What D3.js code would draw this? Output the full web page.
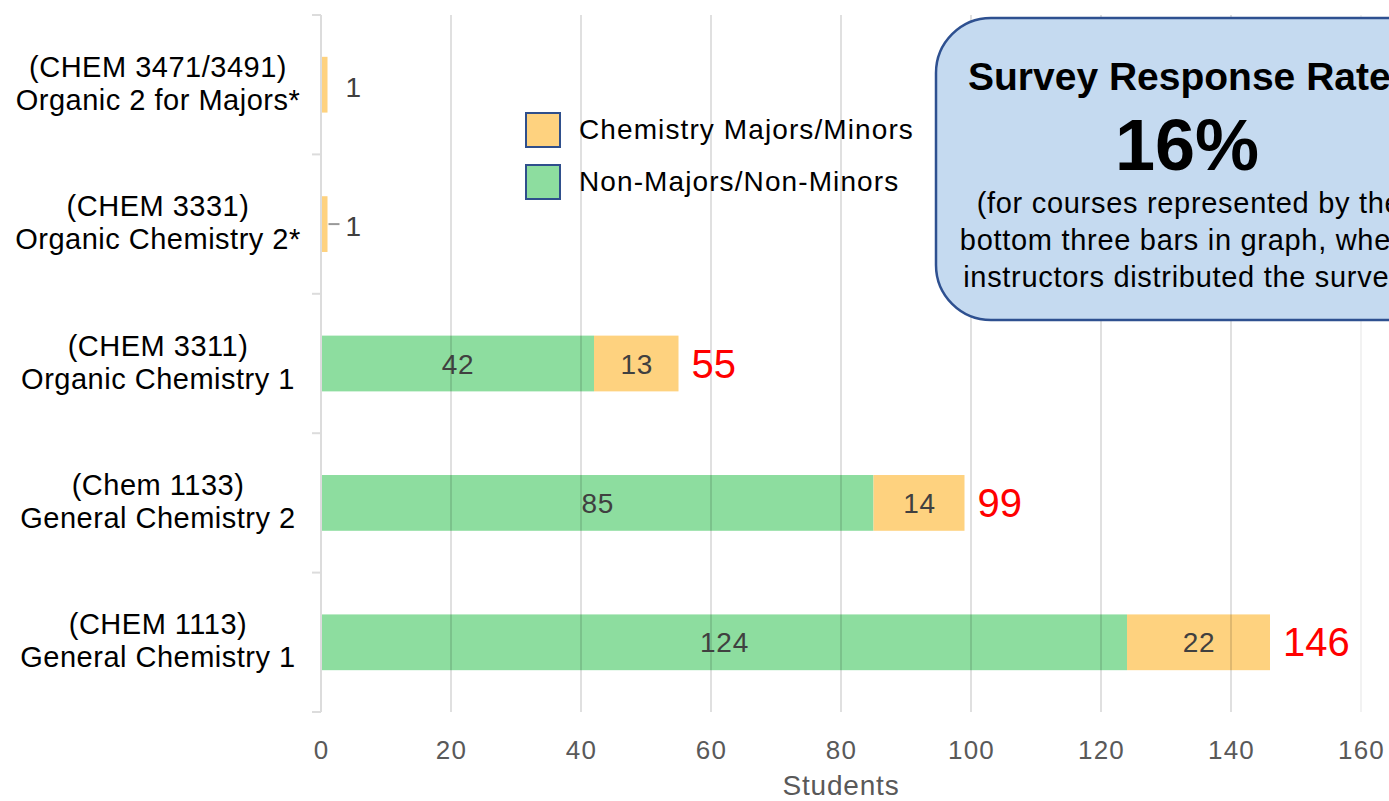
<!DOCTYPE html>
<html>
<head>
<meta charset="utf-8">
<script src="https://cdn.jsdelivr.net/npm/d3@7"></script>
<style>
  html, body { margin: 0; padding: 0; background: #fff; }
  svg { display: block; font-family: "Liberation Sans", Arial, Helvetica, sans-serif; }
</style>
</head>
<body>
<div id="chart"></div>
<script>
// ---- data ----
const courseCodes = ['(CHEM 3471/3491)', '(CHEM 3331)', '(CHEM 3311)', '(Chem 1133)', '(CHEM 1113)'];
const courseNames = ['Organic 2 for Majors*', 'Organic Chemistry 2*', 'Organic Chemistry 1', 'General Chemistry 2', 'General Chemistry 1'];
const nonMajors = [0, 0, 42, 85, 124];
const majors = [1, 1, 13, 14, 22];
const totalLabels = [null, null, 55, 99, 146];
const xTicks = [0, 20, 40, 60, 80, 100, 120, 140, 160];
const seriesNames = ['Chemistry Majors/Minors', 'Non-Majors/Non-Minors'];
const boxTitle = 'Survey Response Rate';
const boxValue = '16%';
const boxNote = ['(for courses represented by the', 'bottom three bars in graph, where', 'instructors distributed the survey)'];

const W = 1389, H = 801;
const margin = { top: 15, right: 28, bottom: 89, left: 321 };
const colors = { nonMajor: '#8ddd9f', major: '#fed27f', grid: '#000', tick: '#595959', inner: '#404040' };

const svg = d3.select('#chart').append('svg')
    .attr('width', W)
    .attr('height', H);

const x = d3.scaleLinear().domain([0, 160]).range([margin.left, W - margin.right]);
const y = d3.scaleBand().domain(d3.range(courseCodes.length))
    .range([margin.top, H - margin.bottom])
    .paddingInner(0.6).paddingOuter(0.3);

const bandStep = y.step();
const rows = courseCodes.map((c, i) => ({ i, code: c, name: courseNames[i], non: nonMajors[i], maj: majors[i], total: totalLabels[i] }));
const cy = d => y(d.i) + y.bandwidth() / 2;

// bars
const barG = svg.append('g');
barG.selectAll('rect.non').data(rows.filter(d => d.non > 0)).join('rect')
    .attr('x', x(0))
    .attr('y', d => y(d.i))
    .attr('width', d => x(d.non) - x(0))
    .attr('height', y.bandwidth())
    .attr('fill', colors.nonMajor);

barG.selectAll('rect.maj').data(rows).join('rect')
    .attr('x', d => x(d.non))
    .attr('y', d => y(d.i))
    .attr('width', d => x(d.non + d.maj) - x(d.non))
    .attr('height', y.bandwidth())
    .attr('fill', colors.major);

// gridlines (drawn over bars, faint)
svg.append('g').selectAll('line').data(xTicks.slice(1)).join('line')
    .attr('x1', d => x(d)).attr('x2', d => x(d))
    .attr('y1', margin.top).attr('y2', H - margin.bottom)
    .attr('stroke', colors.grid)
    .attr('stroke-opacity', d => d === 160 ? 0.05 : 0.12)
    .attr('stroke-width', 2);

// left axis line with band ticks
const axG = svg.append('g').attr('stroke', '#dcdcdc').attr('stroke-width', 2);
axG.append('line')
    .attr('x1', x(0)).attr('x2', x(0))
    .attr('y1', margin.top).attr('y2', H - margin.bottom);
axG.selectAll('line.tk').data(d3.range(courseCodes.length + 1)).join('line')
    .attr('x1', x(0) - 9).attr('x2', x(0))
    .attr('y1', i => margin.top + i * bandStep)
    .attr('y2', i => margin.top + i * bandStep);

// x tick labels
svg.append('g').selectAll('text').data(xTicks).join('text')
    .attr('x', d => x(d) + 0.5)
    .attr('y', 759)
    .attr('text-anchor', 'middle')
    .attr('font-size', 26)
    .attr('letter-spacing', 1.2)
    .attr('fill', colors.tick)
    .text(d => d);

svg.append('text')
    .attr('x', (x(0) + x(160)) / 2)
    .attr('y', 795)
    .attr('text-anchor', 'middle')
    .attr('font-size', 28)
    .attr('letter-spacing', 0.8)
    .attr('fill', colors.tick)
    .text('Students');

// category labels
const catG = svg.append('g').selectAll('text').data(rows).join('text')
    .attr('text-anchor', 'middle')
    .attr('font-size', 29)
    .attr('letter-spacing', 0.5)
    .attr('fill', '#000');
catG.append('tspan')
    .attr('x', 158)
    .attr('y', d => cy(d) - 8)
    .text(d => d.code);
catG.append('tspan')
    .attr('x', 158)
    .attr('y', d => cy(d) + 25)
    .text(d => d.name);

// segment labels
const stacked = rows.filter(d => d.non > 0);
svg.append('g').selectAll('text').data(stacked).join('text')
    .attr('x', d => x(d.non / 2) + 0.5)
    .attr('y', d => cy(d) + 10)
    .attr('text-anchor', 'middle')
    .attr('font-size', 28)
    .attr('letter-spacing', 0.8)
    .attr('fill', colors.inner)
    .text(d => d.non);

svg.append('g').selectAll('text').data(stacked).join('text')
    .attr('x', d => x(d.non + d.maj / 2) + 0.5)
    .attr('y', d => cy(d) + 10)
    .attr('text-anchor', 'middle')
    .attr('font-size', 28)
    .attr('letter-spacing', 0.8)
    .attr('fill', colors.inner)
    .text(d => d.maj);

// small bars: label outside, second with leader line
const small = rows.filter(d => d.non === 0);
svg.append('g').selectAll('text').data(small).join('text')
    .attr('x', d => x(d.maj) + 18)
    .attr('y', d => cy(d) + 12)
    .attr('font-size', 28)
    .attr('fill', colors.inner)
    .text(d => d.maj);
svg.append('line')
    .attr('x1', x(small[1].maj) + 1).attr('x2', x(small[1].maj) + 12)
    .attr('y1', cy(small[1]))
    .attr('y2', cy(small[1]))
    .attr('stroke', '#999').attr('stroke-width', 2);

// totals in red
svg.append('g').selectAll('text').data(rows.filter(d => d.total != null)).join('text')
    .attr('x', d => x(d.non + d.maj) + 13)
    .attr('y', d => cy(d) + 14)
    .attr('font-size', 40)
    .attr('fill', '#ff0000')
    .text(d => d.total);

// legend
const legend = svg.append('g').attr('transform', 'translate(526,113)');
const legendColors = [colors.major, colors.nonMajor];
seriesNames.forEach((name, i) => {
    const g = legend.append('g').attr('transform', `translate(0,${i * 52})`);
    g.append('rect')
        .attr('width', 34).attr('height', 34)
        .attr('fill', legendColors[i])
        .attr('stroke', '#2f4f8c').attr('stroke-width', 2);
    g.append('text')
        .attr('x', 53).attr('y', 26)
        .attr('font-size', 28)
        .attr('letter-spacing', 1.1)
        .attr('fill', '#000')
        .text(name);
});

// survey response box (runs off the right edge, as in the source)
const box = svg.append('g');
box.append('rect')
    .attr('x', 936).attr('y', 18)
    .attr('width', 510).attr('height', 302)
    .attr('rx', 55).attr('ry', 55)
    .attr('fill', '#c5daf0')
    .attr('stroke', '#2e5090')
    .attr('stroke-width', 2.5);
const cx = 1189;
box.append('text')
    .attr('x', 968).attr('y', 90)
    .attr('font-size', 39).attr('font-weight', 'bold')
    .attr('fill', '#000')
    .text(boxTitle);
box.append('text')
    .attr('x', cx - 2).attr('y', 170)
    .attr('text-anchor', 'middle')
    .attr('font-size', 72).attr('font-weight', 'bold')
    .attr('fill', '#000')
    .text(boxValue);
box.selectAll('text.note').data(boxNote).join('text')
    .attr('x', cx)
    .attr('y', (d, i) => 213 + i * 37)
    .attr('text-anchor', 'middle')
    .attr('font-size', 29)
    .attr('letter-spacing', 0.7)
    .attr('fill', '#000')
    .text(d => d);
</script>
</body>
</html>
